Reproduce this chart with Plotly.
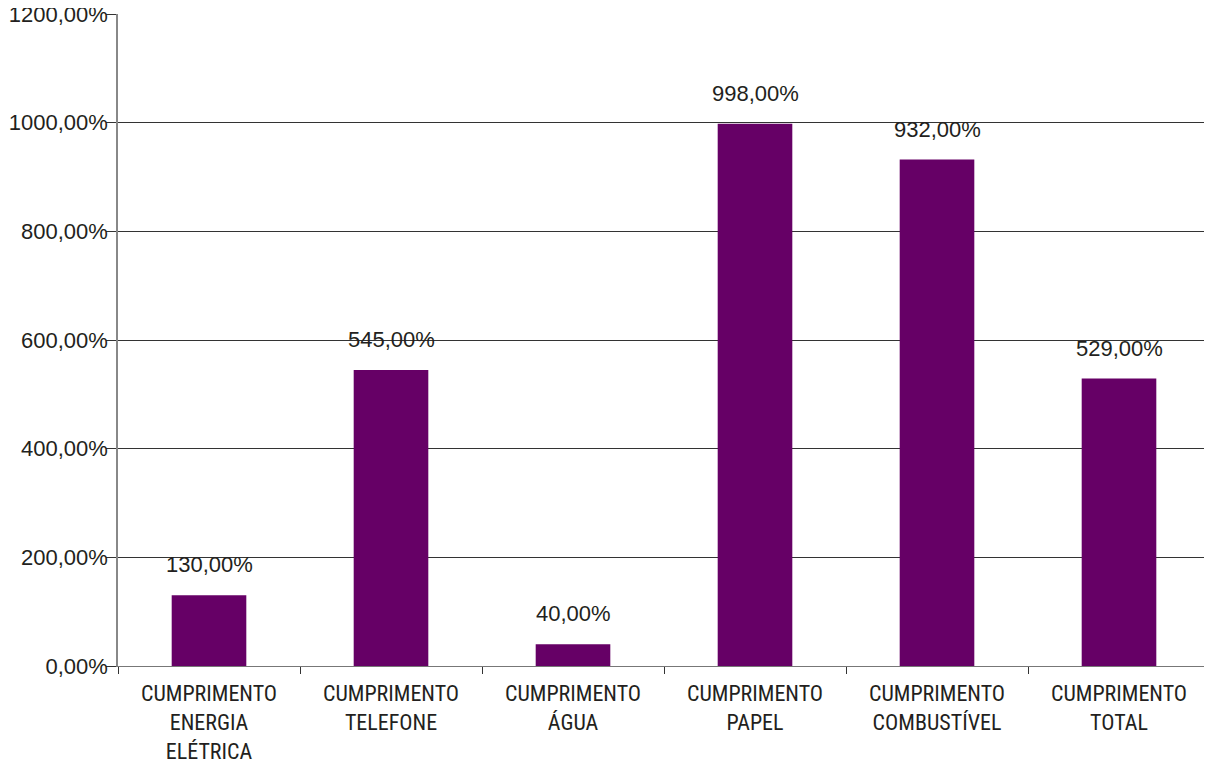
import plotly.graph_objects as go

categories = ["CUMPRIMENTO<br>ENERGIA<br>ELÉTRICA", "CUMPRIMENTO<br>TELEFONE", "CUMPRIMENTO<br>ÁGUA",
              "CUMPRIMENTO<br>PAPEL", "CUMPRIMENTO<br>COMBUSTÍVEL", "CUMPRIMENTO<br>TOTAL"]
values = [130, 545, 40, 998, 932, 529]
value_labels = ["130,00%", "545,00%", "40,00%", "998,00%", "932,00%", "529,00%"]
y_tickvals = [0, 200, 400, 600, 800, 1000, 1200]
y_ticktext = ["0,00%", "200,00%", "400,00%", "600,00%", "800,00%", "1000,00%", "1200,00%"]

FONT_REG = "Liberation Sans, Arial, sans-serif"
FONT_COND = "Liberation Sans Narrow, Roboto Condensed, Arial Narrow, Liberation Sans, sans-serif"
TXT = "#231f20"

fig = go.Figure()
fig.add_trace(go.Bar(x=list(range(len(categories))), y=values, marker_color="#660066",
                     marker_line_width=0, width=0.41))

for i, (v, t) in enumerate(zip(values, value_labels)):
    fig.add_annotation(x=i, y=v, text=t, showarrow=False, yanchor="bottom", yshift=16,
                       font=dict(family=FONT_REG, size=22, color=TXT))

fig.update_layout(
    width=1204, height=758,
    margin=dict(l=110, r=2, t=6, b=100),
    plot_bgcolor="white", paper_bgcolor="white",
    showlegend=False, bargap=0.59,
    font=dict(family=FONT_REG, color=TXT),
)
fig.update_xaxes(
    range=[-0.5, 5.5], automargin=False,
    tickvals=list(range(len(categories))), ticktext=categories,
    tickfont=dict(family=FONT_COND, size=22, color=TXT),
    showgrid=False, showline=True, linecolor="#777", linewidth=1,
    ticks="", zeroline=False, ticklabelstandoff=8, ticklabeloverflow="allow",
)
fig.update_xaxes(minor=dict(tickvals=[-0.5, 0.5, 1.5, 2.5, 3.5, 4.5, 5.5], ticks="outside",
                            ticklen=7, tickcolor="#333", tickwidth=1))
fig.update_yaxes(
    range=[0, 1200], tickvals=y_tickvals, ticktext=y_ticktext, automargin=False,
    tickfont=dict(family=FONT_REG, size=22, color=TXT),
    showgrid=True, gridcolor="#333", gridwidth=1,
    showline=True, linecolor="#888", linewidth=1.5,
    ticks="outside", ticklen=10, tickcolor="#333", zeroline=False,
    ticklabeloverflow="allow", ticklabelstandoff=-6,
)
fig.write_html("out.html")
